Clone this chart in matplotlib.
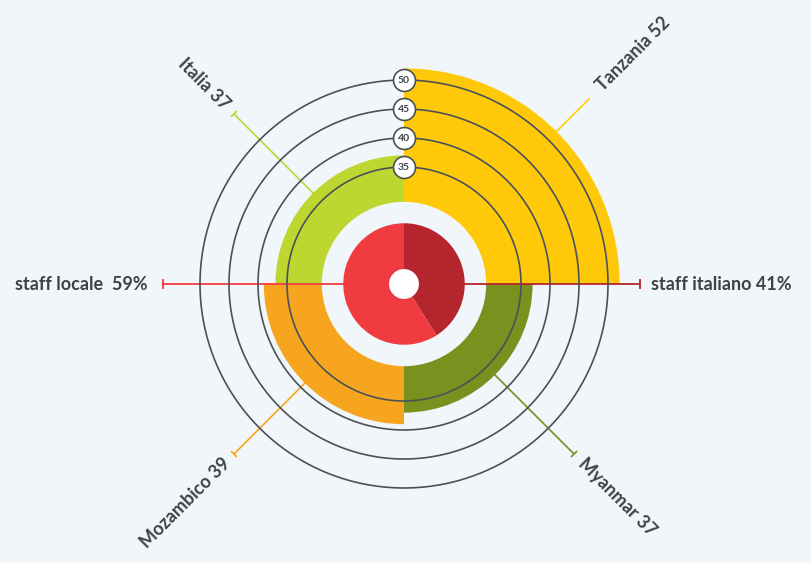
import numpy as np
import matplotlib.pyplot as plt
from matplotlib.markers import MarkerStyle
from matplotlib.transforms import Affine2D

# data
countries = ['Tanzania', 'Italia', 'Mozambico', 'Myanmar']
staff = [52, 37, 39, 37]
country_colors = ['#ffc90a', '#bdd630', '#f7a51f', '#7a901f']
quadrant_start = [0, 90, 180, 270]

share_labels = ['staff italiano', 'staff locale']
staff_share = [41, 59]
share_colors = ['#b4252e', '#f03c40']

ring_levels = [35, 40, 45, 50]

bg = '#f1f6fa'
ink = '#3b4248'
ring_col = '#4a5258'

# radial layout (data units)
R0 = 86 / 5.8      # centre of the plot
INNER = 29.0       # inner edge of the country wedges
PIE_R = 25.3
HOLE_R = 17.4
RMAX = 60

plt.rcParams['font.family'] = ['Lato', 'DejaVu Sans']

fig = plt.figure(figsize=(8.11, 5.63), dpi=100, facecolor=bg)
R_px = 5.8 * (RMAX - R0)
ax = fig.add_axes([(404 - R_px) / 811, (279 - R_px) / 563,
                   2 * R_px / 811, 2 * R_px / 563], projection='polar')
ax.set_ylim(R0, RMAX)
ax.axis('off')

# country wedges
ax.bar(np.deg2rad(quadrant_start), np.array(staff) - INNER, width=np.pi / 2,
       bottom=INNER, align='edge', color=country_colors, linewidth=0, zorder=1)

# horizontal staff line
ax.plot([0, 0], [R0, 55.5], color=share_colors[0], lw=1.3, zorder=2)
ax.plot([0], [55.5], marker='|', ms=7, mew=1.3, color=share_colors[0], zorder=2)
ax.plot([np.pi, np.pi], [R0, 56.4], color=share_colors[1], lw=1.3, zorder=2)
ax.plot([np.pi], [56.4], marker='|', ms=7, mew=1.3, color=share_colors[1], zorder=2)

# inner pie (clockwise from top)
spans = np.array(staff_share) / 100 * 360
starts = 90 - np.cumsum(spans)
ax.bar(np.deg2rad(starts), PIE_R - R0, width=np.deg2rad(spans), bottom=R0,
       align='edge', color=share_colors, linewidth=0, zorder=3)
ax.bar(0, HOLE_R - R0, width=2 * np.pi, bottom=R0, align='edge',
       color='white', linewidth=0, zorder=3.5)

# rings and badges
th = np.linspace(0, 2 * np.pi, 500)
for lv in ring_levels:
    ax.plot(th, np.full_like(th, lv), color=ring_col, lw=1.2, zorder=4)
ax.scatter(np.full(len(ring_levels), np.pi / 2), ring_levels, s=250,
           facecolor='white', edgecolor=ring_col, linewidth=1.2, zorder=5)
for lv in ring_levels:
    ax.text(np.pi / 2, lv, str(lv), ha='center', va='center', fontsize=7.5,
            weight='bold', color=ink, zorder=6)

# leaders and country labels
for name, v, col, st in zip(countries, staff, country_colors, quadrant_start):
    mid = st + 45
    t = np.deg2rad(mid)
    r_end = max(v + 8.7, 56.2)
    ax.plot([t, t], [v, r_end], color=col, lw=1.2, zorder=2)
    cap = MarkerStyle('|', transform=Affine2D().rotate_deg(mid))
    ax.plot([t], [r_end], marker=cap, ms=6, mew=1.2, color=col, zorder=2)
    rot = ((mid + 90) % 180) - 90
    ha = 'left' if np.cos(np.deg2rad(mid - rot)) > 0 else 'right'
    ax.text(t, r_end + 1.8, f'{name} {v}', rotation=rot, rotation_mode='anchor',
            ha=ha, va='center', fontsize=13, weight='bold', color=ink)

ax.text(0, 57.4, f'{share_labels[0]} {staff_share[0]}%', ha='left', va='center',
        fontsize=13, weight='bold', color=ink)
ax.text(np.pi, 59, f'{share_labels[1]}  {staff_share[1]}%', ha='right', va='center',
        fontsize=13, weight='bold', color=ink)

fig.savefig('out.png', dpi=100, facecolor=bg)
